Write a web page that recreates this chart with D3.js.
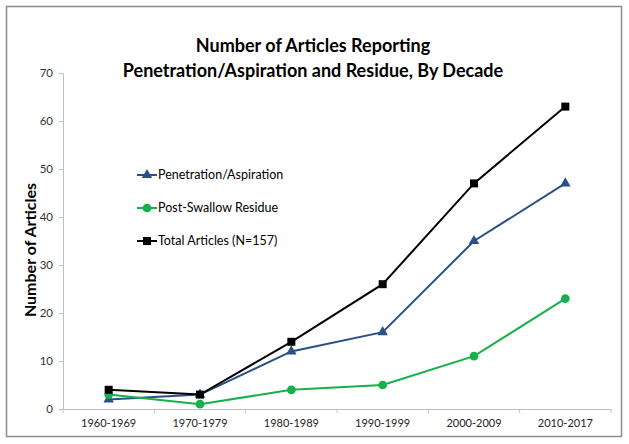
<!DOCTYPE html>
<html><head><meta charset="utf-8">
<script src="https://cdn.jsdelivr.net/npm/d3@7"></script>
<style>body{margin:0;background:#fff}svg{display:block}</style>
</head><body>
<script>
const categories = ["1960-1969","1970-1979","1980-1989","1990-1999","2000-2009","2010-2017"];
const penetration = [2,3,12,16,35,47];
const residue = [3,1,4,5,11,23];
const total = [4,3,14,26,47,63];
const yTicks = [0,10,20,30,40,50,60,70];
const seriesNames = ["Penetration/Aspiration","Post-Swallow Residue","Total Articles (N=157)"];

const W=629,H=444;
const svg=d3.select("body").append("svg").attr("width",W).attr("height",H);
svg.append("rect").attr("width",W).attr("height",H).attr("fill","#fff");
svg.append("rect").attr("x",6.5).attr("y",6.5).attr("width",615).attr("height",430)
  .attr("fill","none").attr("stroke","#8c8c8c").attr("stroke-width",1.5);

const font="Lato, 'Open Sans', sans-serif";
const x=d3.scaleBand().domain(categories).range([63,611]);
const y=d3.scaleLinear().domain([0,70]).range([409,73]);

// title
const t=svg.append("text").attr("x",313).attr("text-anchor","middle")
  .attr("font-family",font).attr("font-weight","bold").attr("font-size",18).attr("fill","#000");
t.append("tspan").attr("x",313).attr("y",52).text("Number of Articles Reporting");
t.append("tspan").attr("x",313).attr("y",77).text("Penetration/Aspiration and Residue, By Decade");

// y axis
const ya=svg.append("g").attr("transform","translate(63,0)")
  .call(d3.axisLeft(y).tickValues(yTicks).tickSize(4).tickPadding(6));
ya.select(".domain").attr("stroke","#bfbfbf");
ya.selectAll(".tick line").attr("stroke","#bfbfbf");
ya.selectAll(".tick text").attr("font-family",font).attr("font-size",11.5).attr("fill","#333");

// x axis
const xa=svg.append("g").attr("transform","translate(0,409)")
  .call(d3.axisBottom(x).tickSize(0).tickPadding(10));
xa.select(".domain").attr("stroke","#bfbfbf");
xa.selectAll(".tick text").attr("font-family",font).attr("font-size",11).attr("fill","#222");
const bounds=[...categories.map(c=>x(c)), x.range()[1]];
xa.selectAll(".xt").data(bounds).join("line").attr("class","xt")
  .attr("x1",d=>d).attr("x2",d=>d).attr("y1",0).attr("y2",4).attr("stroke","#bfbfbf");

// y label
svg.append("text").attr("transform","translate(36,250) rotate(-90)").attr("text-anchor","middle")
  .attr("font-family",font).attr("font-weight","bold").attr("font-size",16).attr("fill","#000")
  .text("Number of Articles");

const cx=c=>x(c)+x.bandwidth()/2;
const series=[
 {name:seriesNames[0],vals:penetration,color:"#2b5087",marker:"triangle"},
 {name:seriesNames[1],vals:residue,color:"#16b14c",marker:"circle"},
 {name:seriesNames[2],vals:total,color:"#000000",marker:"square"}
];
const sym={triangle:d3.symbol().type(d3.symbolTriangle).size(48),
           circle:d3.symbol().type(d3.symbolCircle).size(60),
           square:d3.symbol().type(d3.symbolSquare).size(64)};
const line=d3.line().x((d,i)=>cx(categories[i])).y(d=>y(d));
series.forEach(s=>{
  svg.append("path").attr("d",line(s.vals)).attr("fill","none").attr("stroke",s.color).attr("stroke-width",2);
  svg.selectAll(null).data(s.vals).join("path")
    .attr("transform",(d,i)=>`translate(${cx(categories[i])},${y(d)})`)
    .attr("d",sym[s.marker]).attr("fill",s.color);
});

// legend
series.forEach((s,i)=>{
  const ly=175+i*33;
  svg.append("line").attr("x1",137).attr("x2",157).attr("y1",ly).attr("y2",ly).attr("stroke",s.color).attr("stroke-width",2);
  svg.append("path").attr("transform",`translate(147,${ly})`).attr("d",sym[s.marker]).attr("fill",s.color);
  svg.append("text").attr("x",158).attr("y",ly+4).attr("font-family",font).attr("font-size",12.5).attr("fill","#000").text(s.name);
});
</script>
</body></html>
